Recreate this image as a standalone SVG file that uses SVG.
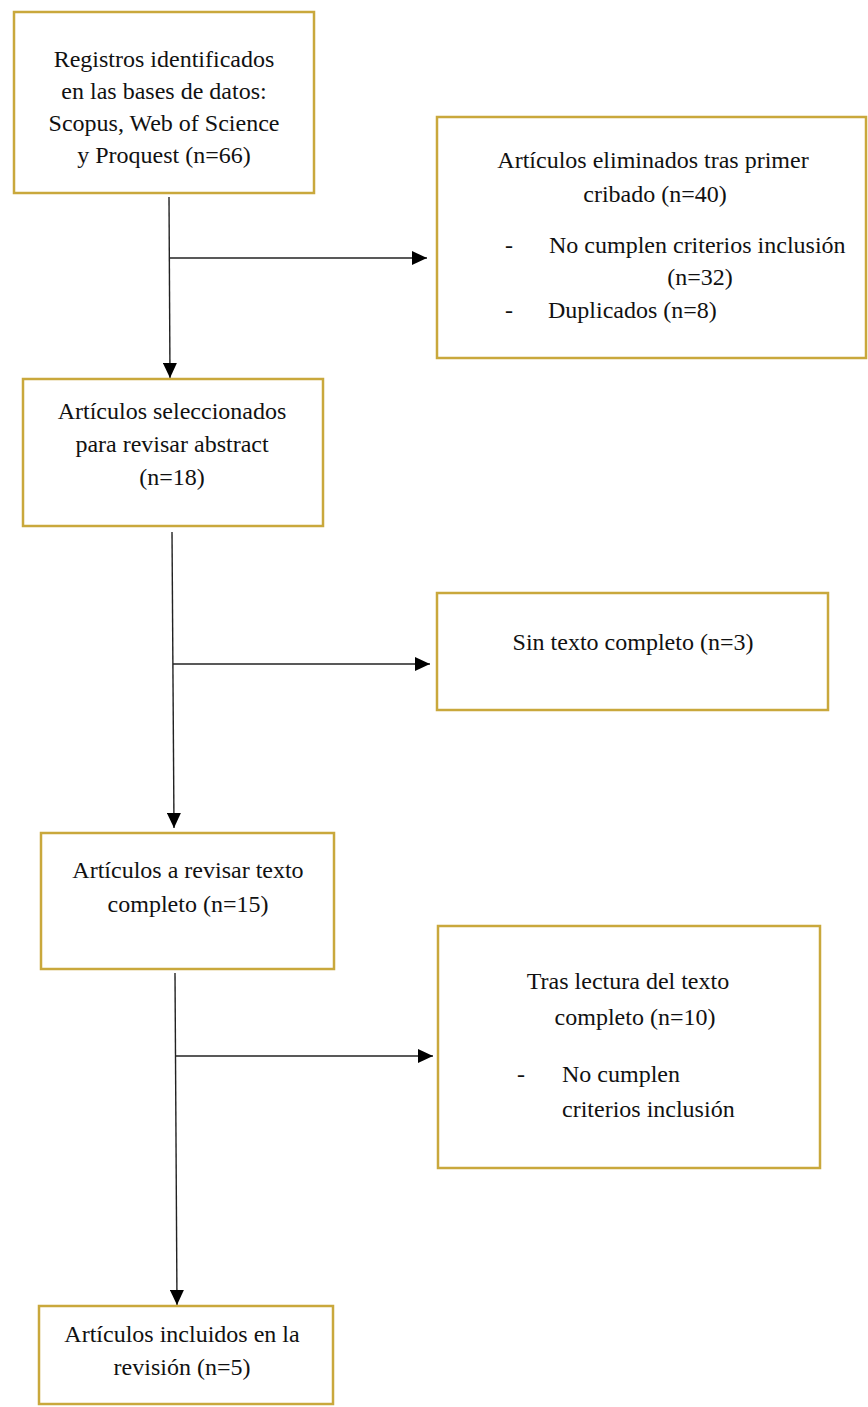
<svg xmlns="http://www.w3.org/2000/svg" width="868" height="1407" viewBox="0 0 868 1407">
<style>
.box{fill:#fff;stroke:#c9a83c;stroke-width:2.5}
.t{font-family:"Liberation Serif","Times New Roman",serif;font-size:24px;fill:#111}
.c{text-anchor:middle}
.ln{stroke:#222;stroke-width:1.4;fill:none}
</style>
<defs>
<marker id="ah" markerWidth="15" markerHeight="14" refX="15" refY="7" orient="auto" markerUnits="userSpaceOnUse">
<path d="M0,0 L15,7 L0,14 Z" fill="#000"/>
</marker>
</defs>
<rect width="868" height="1407" fill="#fff"/>
<g id="connectors">
<line class="ln" x1="169" y1="197" x2="170" y2="378" marker-end="url(#ah)"/>
<line class="ln" x1="170" y1="258" x2="427" y2="258" marker-end="url(#ah)"/>
<line class="ln" x1="172" y1="532" x2="174" y2="828" marker-end="url(#ah)"/>
<line class="ln" x1="173" y1="664" x2="430" y2="664" marker-end="url(#ah)"/>
<line class="ln" x1="175" y1="973" x2="177" y2="1305" marker-end="url(#ah)"/>
<line class="ln" x1="175" y1="1056" x2="433" y2="1056" marker-end="url(#ah)"/>
</g>
<g id="n1">
<rect class="box" x="14" y="12" width="300" height="181"/>
<text class="t c" x="164" y="67">Registros identificados</text>
<text class="t c" x="164" y="99">en las bases de datos:</text>
<text class="t c" x="164" y="131">Scopus, Web of Science</text>
<text class="t c" x="164" y="163">y Proquest (n=66)</text>
</g>
<g id="n2">
<rect class="box" x="437" y="117" width="429" height="241"/>
<text class="t c" x="653" y="168">Artículos eliminados tras primer</text>
<text class="t c" x="655" y="202">cribado (n=40)</text>
<text class="t" x="505" y="253">-</text>
<text class="t" x="549" y="253">No cumplen criterios inclusión</text>
<text class="t c" x="700" y="285">(n=32)</text>
<text class="t" x="505" y="318">-</text>
<text class="t" x="548" y="318">Duplicados (n=8)</text>
</g>
<g id="n3">
<rect class="box" x="23" y="379" width="300" height="147"/>
<text class="t c" x="172" y="419">Artículos seleccionados</text>
<text class="t c" x="172" y="452">para revisar abstract</text>
<text class="t c" x="172" y="485">(n=18)</text>
</g>
<g id="n4">
<rect class="box" x="437" y="593" width="391" height="117"/>
<text class="t c" x="633" y="650">Sin texto completo (n=3)</text>
</g>
<g id="n5">
<rect class="box" x="41" y="833" width="293" height="136"/>
<text class="t c" x="188" y="878">Artículos a revisar texto</text>
<text class="t c" x="188" y="912">completo (n=15)</text>
</g>
<g id="n6">
<rect class="box" x="438" y="926" width="382" height="242"/>
<text class="t c" x="628" y="989">Tras lectura del texto</text>
<text class="t c" x="635" y="1025">completo (n=10)</text>
<text class="t" x="517" y="1082">-</text>
<text class="t" x="562" y="1082">No cumplen</text>
<text class="t" x="562" y="1117">criterios inclusión</text>
</g>
<g id="n7">
<rect class="box" x="39" y="1306" width="294" height="98"/>
<text class="t c" x="182" y="1342">Artículos incluidos en la</text>
<text class="t c" x="182" y="1375">revisión (n=5)</text>
</g>
</svg>
